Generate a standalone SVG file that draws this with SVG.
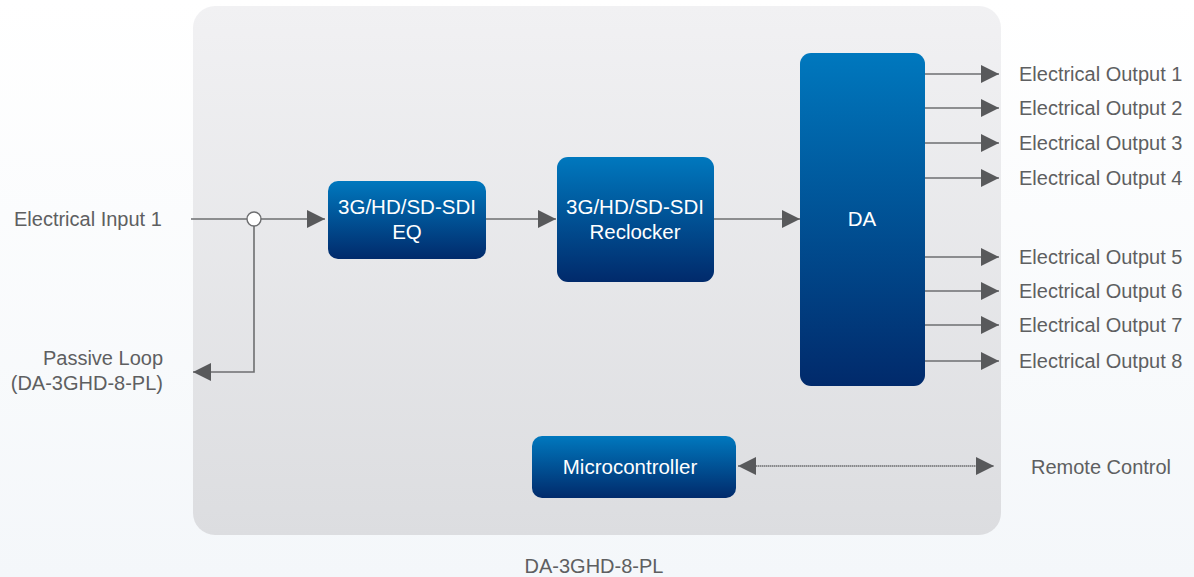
<svg xmlns="http://www.w3.org/2000/svg" width="1194" height="577" viewBox="0 0 1194 577">
<defs>
<linearGradient id="bg" x1="0" y1="0" x2="0" y2="1"><stop offset="0" stop-color="#ffffff"/><stop offset="1" stop-color="#f4f7fa"/></linearGradient>
<linearGradient id="panel" x1="0" y1="0" x2="0" y2="1"><stop offset="0" stop-color="#f1f1f3"/><stop offset="1" stop-color="#dcdde0"/></linearGradient>
<linearGradient id="box" x1="0" y1="0" x2="0" y2="1"><stop offset="0" stop-color="#0078be"/><stop offset="1" stop-color="#012a6b"/></linearGradient>
<marker id="ah" viewBox="0 0 10 10" refX="10" refY="5" markerWidth="18" markerHeight="18" markerUnits="userSpaceOnUse" orient="auto-start-reverse"><path d="M0,0 L10,5 L0,10 Z" fill="#58595b"/></marker>
<style>
.lbl{font-family:"Liberation Sans",Arial,sans-serif;font-size:20px;fill:#5e5f61}
.bt{font-family:"Liberation Sans",Arial,sans-serif;font-size:20.5px;fill:#ffffff;text-anchor:middle}
.ln{stroke:#6d6e70;stroke-width:1.6;fill:none}
.node rect{fill:url(#box)}
</style>
</defs>
<rect x="0" y="0" width="1194" height="577" fill="url(#bg)"/>
<rect x="193" y="6" width="808" height="529" rx="22" fill="url(#panel)"/>
<g id="connectors">
<path class="ln" d="M191,219 H325" marker-end="url(#ah)"/>
<path class="ln" d="M254,226 V372 H193" marker-end="url(#ah)"/>
<path class="ln" d="M486,219 H556" marker-end="url(#ah)"/>
<path class="ln" d="M713,219 H800" marker-end="url(#ah)"/>
<path class="ln" d="M925,74 H999" marker-end="url(#ah)"/>
<path class="ln" d="M925,108 H999" marker-end="url(#ah)"/>
<path class="ln" d="M925,143 H999" marker-end="url(#ah)"/>
<path class="ln" d="M925,178 H999" marker-end="url(#ah)"/>
<path class="ln" d="M925,257 H999" marker-end="url(#ah)"/>
<path class="ln" d="M925,291 H999" marker-end="url(#ah)"/>
<path class="ln" d="M925,325 H999" marker-end="url(#ah)"/>
<path class="ln" d="M925,361 H999" marker-end="url(#ah)"/>
<path class="ln" d="M738,466 H994" marker-start="url(#ah)" marker-end="url(#ah)" stroke-dasharray="1.5 0.5"/>
<circle cx="254" cy="219" r="7" fill="#ffffff" stroke="#6d6e70" stroke-width="1.4"/>
</g>
<g id="eq" class="node"><rect x="328" y="181" width="158" height="78" rx="10"/><text class="bt" x="407" y="214">3G/HD/SD-SDI</text><text class="bt" x="407" y="239">EQ</text></g>
<g id="reclocker" class="node"><rect x="557" y="157" width="157" height="125" rx="11"/><text class="bt" x="635" y="214">3G/HD/SD-SDI</text><text class="bt" x="635" y="239">Reclocker</text></g>
<g id="da" class="node"><rect x="800" y="53" width="125" height="333" rx="11"/><text class="bt" x="862" y="226">DA</text></g>
<g id="micro" class="node"><rect x="532" y="436" width="204" height="62" rx="10"/><text class="bt" x="630" y="474">Microcontroller</text></g>
<g id="labels">
<text class="lbl" x="14" y="226">Electrical Input 1</text>
<text class="lbl" x="163" y="365" text-anchor="end">Passive Loop</text>
<text class="lbl" x="163" y="390" text-anchor="end">(DA-3GHD-8-PL)</text>
<text class="lbl" x="1019" y="81">Electrical Output 1</text>
<text class="lbl" x="1019" y="115">Electrical Output 2</text>
<text class="lbl" x="1019" y="150">Electrical Output 3</text>
<text class="lbl" x="1019" y="185">Electrical Output 4</text>
<text class="lbl" x="1019" y="264">Electrical Output 5</text>
<text class="lbl" x="1019" y="298">Electrical Output 6</text>
<text class="lbl" x="1019" y="332">Electrical Output 7</text>
<text class="lbl" x="1019" y="368">Electrical Output 8</text>
<text class="lbl" x="1031" y="474">Remote Control</text>
<text class="lbl" x="594" y="573" text-anchor="middle">DA-3GHD-8-PL</text>
</g>
</svg>
